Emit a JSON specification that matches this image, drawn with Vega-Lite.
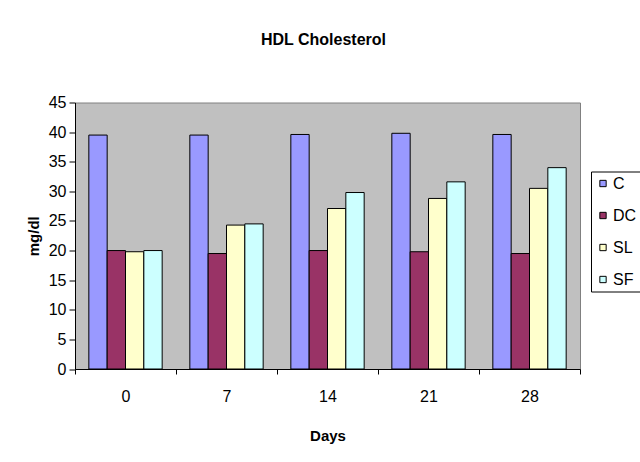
{
  "$schema": "https://vega.github.io/schema/vega-lite/v6.json",
  "width": 505,
  "height": 266.5,
  "autosize": {"type": "none"},
  "padding": {"left": 75, "top": 102.5, "right": 60, "bottom": 93},
  "background": "white",
  "title": {
    "text": "HDL Cholesterol",
    "fontSize": 16,
    "font": "Liberation Sans, Arial",
    "fontWeight": "bold",
    "anchor": "middle",
    "baseline": "alphabetic",
    "offset": 34,
    "dx": -4,
    "color": "black"
  },
  "data": {
    "values": [
      {"day": 0, "group": "C", "value": 39.5},
      {"day": 0, "group": "DC", "value": 20.0},
      {"day": 0, "group": "SL", "value": 19.8},
      {"day": 0, "group": "SF", "value": 20.0},
      {"day": 7, "group": "C", "value": 39.5},
      {"day": 7, "group": "DC", "value": 19.5},
      {"day": 7, "group": "SL", "value": 24.3},
      {"day": 7, "group": "SF", "value": 24.5},
      {"day": 14, "group": "C", "value": 39.6},
      {"day": 14, "group": "DC", "value": 20.0},
      {"day": 14, "group": "SL", "value": 27.1},
      {"day": 14, "group": "SF", "value": 29.8},
      {"day": 21, "group": "C", "value": 39.8},
      {"day": 21, "group": "DC", "value": 19.8},
      {"day": 21, "group": "SL", "value": 28.8},
      {"day": 21, "group": "SF", "value": 31.6},
      {"day": 28, "group": "C", "value": 39.6},
      {"day": 28, "group": "DC", "value": 19.5},
      {"day": 28, "group": "SL", "value": 30.5},
      {"day": 28, "group": "SF", "value": 34.0}
    ]
  },
  "mark": {"type": "bar", "stroke": "black", "strokeWidth": 1},
  "encoding": {
    "x": {
      "field": "day",
      "type": "ordinal",
      "scale": {"paddingInner": 0, "paddingOuter": 0},
      "axis": {
        "title": "Days",
        "labelAngle": 0,
        "tickBand": "extent",
        "grid": false,
        "domainColor": "black",
        "tickColor": "black",
        "tickSize": 5,
        "labelFont": "Liberation Sans, Arial",
        "labelFontSize": 16,
        "labelColor": "black",
        "labelPadding": 14,
        "titleFont": "Liberation Sans, Arial",
        "titleFontSize": 15,
        "titleFontWeight": "bold",
        "titleColor": "black",
        "titlePadding": 24
      }
    },
    "xOffset": {
      "field": "group",
      "sort": ["C", "DC", "SL", "SF"],
      "scale": {"paddingInner": 0, "paddingOuter": 0.755}
    },
    "y": {
      "field": "value",
      "type": "quantitative",
      "scale": {"domain": [0, 45], "nice": false},
      "axis": {
        "title": "mg/dl",
        "values": [0, 5, 10, 15, 20, 25, 30, 35, 40, 45],
        "grid": false,
        "domainColor": "black",
        "tickColor": "black",
        "tickSize": 6,
        "labelFont": "Liberation Sans, Arial",
        "labelFontSize": 16,
        "labelColor": "black",
        "labelPadding": 3,
        "titleFont": "Liberation Sans, Arial",
        "titleFontSize": 15,
        "titleFontWeight": "bold",
        "titleColor": "black",
        "titlePadding": 7
      }
    },
    "color": {
      "field": "group",
      "type": "nominal",
      "scale": {
        "domain": ["C", "DC", "SL", "SF"],
        "range": ["#9999FF", "#993366", "#FFFFCC", "#CCFFFF"]
      },
      "legend": {
        "title": null,
        "orient": "none",
        "legendX": 516,
        "legendY": 69,
        "strokeColor": "black",
        "fillColor": "white",
        "padding": 4,
        "symbolType": "square",
        "symbolSize": 40,
        "symbolStrokeColor": "black",
        "symbolStrokeWidth": 1,
        "symbolOpacity": 1,
        "labelFont": "Liberation Sans, Arial",
        "labelFontSize": 16,
        "labelColor": "black",
        "labelOffset": 2,
        "rowPadding": 16
      }
    }
  },
  "config": {
    "view": {"fill": "#C0C0C0", "stroke": "#808080", "strokeWidth": 1}
  }
}
